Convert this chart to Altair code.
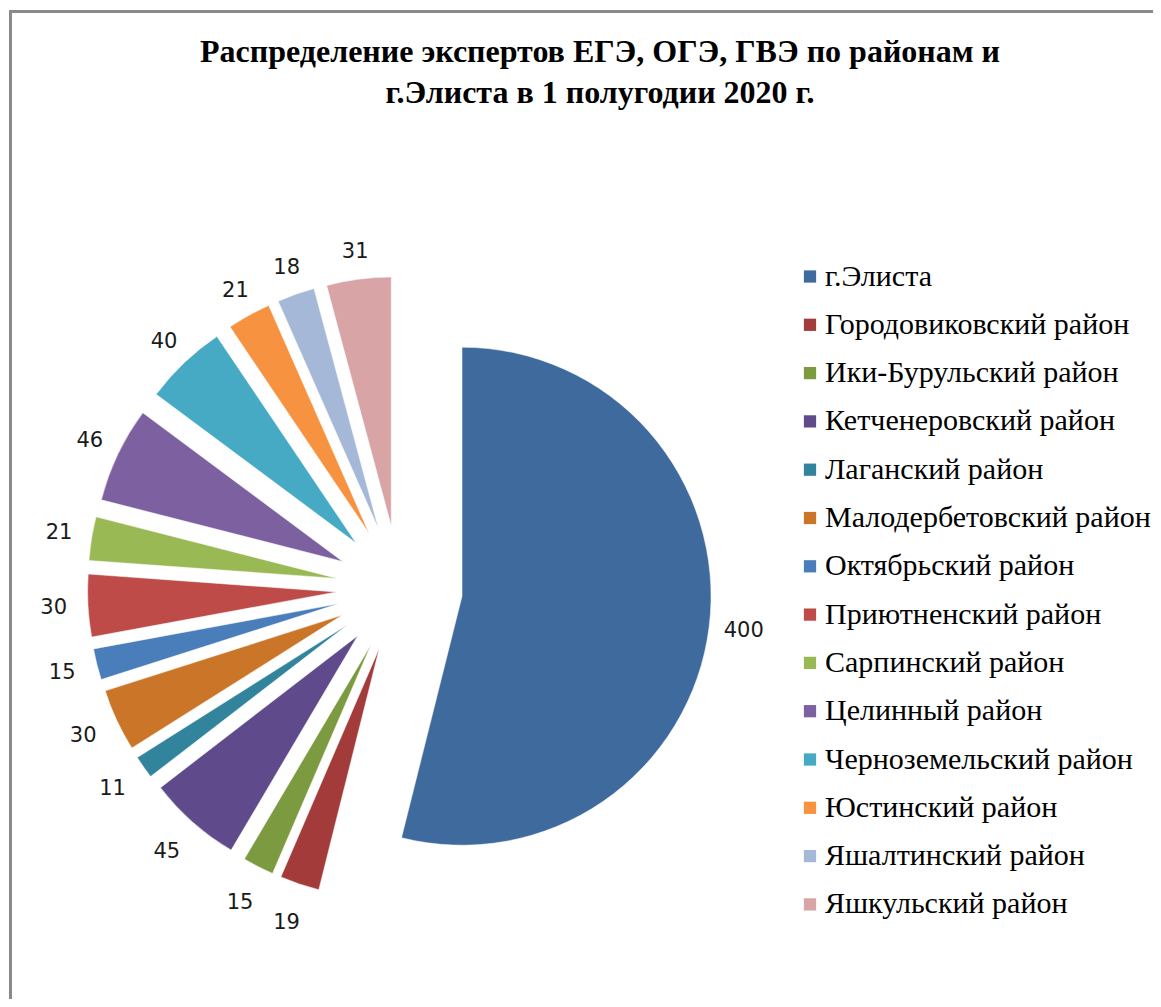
import altair as alt
import pandas as pd

# ---- data ----
CATEGORIES = [
    "г.Элиста",
    "Городовиковский район",
    "Ики-Бурульский район",
    "Кетченеровский район",
    "Лаганский район",
    "Малодербетовский район",
    "Октябрьский район",
    "Приютненский район",
    "Сарпинский район",
    "Целинный район",
    "Черноземельский район",
    "Юстинский район",
    "Яшалтинский район",
    "Яшкульский район",
]
VALUES = [400, 19, 15, 45, 11, 30, 15, 30, 21, 46, 40, 21, 18, 31]
TITLE_LINES = [
    "Распределение экспертов ЕГЭ, ОГЭ, ГВЭ по районам и",
    "г.Элиста в 1 полугодии 2020 г.",
]

# ---- styles ----
COLORS = ["#3F6A9E", "#A33B3A", "#7C9A3F", "#5F4A8B", "#31849B", "#CB7529",
          "#4A7EBB", "#BE4B48", "#98B954", "#7D60A0", "#46AAC5", "#F69240",
          "#A5B8D7", "#D8A4A5"]
SERIF = "Liberation Serif"

W, H = 1145, 991
CX, CY = 391.5, 580.5   # pie centre (plot coords)
R = 249                 # radius
D = 63                  # explosion distance
LR0, LRV = 283, 7       # label distance from slice vertex: LR0 - LRV*cos(angle)

df = pd.DataFrame({"idx": list(range(len(CATEGORIES))),
                   "cat": CATEGORIES, "value": VALUES})

base = (
    alt.Chart(df)
    .transform_joinaggregate(total="sum(value)")
    .transform_window(cum="sum(value)", sort=[alt.SortField("idx")], frame=[None, 0])
    .transform_calculate(a1="2*PI*(datum.cum-datum.value)/datum.total",
                         a2="2*PI*datum.cum/datum.total")
    .transform_calculate(mid="(datum.a1+datum.a2)/2")
    .transform_calculate(px=f"{CX}+{D}*sin(datum.mid)",
                         py=f"{CY}-{D}*cos(datum.mid)",
                         lr=f"{LR0}-{LRV}*cos(datum.mid)")
    .transform_calculate(lx="datum.px+datum.lr*sin(datum.mid)",
                         ly="datum.py-datum.lr*cos(datum.mid)")
)

arcs = base.mark_arc(outerRadius=R, innerRadius=0, stroke="white", strokeWidth=0.5).encode(
    x=alt.X("px:Q", scale=None, axis=None),
    y=alt.Y("py:Q", scale=None, axis=None),
    theta=alt.Theta("a1:Q", scale=None),
    theta2=alt.Theta2("a2:Q"),
    color=alt.Color(
        "cat:N",
        scale=alt.Scale(domain=CATEGORIES, range=COLORS),
        legend=alt.Legend(
            title=None, orient="none", legendX=787, legendY=253.5,
            symbolType="square", symbolSize=150, symbolStrokeWidth=0,
            labelFont=SERIF, labelFontSize=30, labelColor="#000000",
            labelOffset=0, rowPadding=18.3, labelLimit=500,
        ),
    ),
    order=alt.Order("idx:Q"),
)

labels = base.mark_text(font="DejaVu Sans", fontSize=21, color="#1a1a1a",
                        align="center", baseline="middle").encode(
    x=alt.X("lx:Q", scale=None, axis=None),
    y=alt.Y("ly:Q", scale=None, axis=None),
    text=alt.Text("value:Q"),
)

title1 = alt.Chart(alt.Data(values=[{"t": TITLE_LINES[0]}])).mark_text(
    font=SERIF, fontSize=32, fontWeight="bold", color="#000000",
    align="center", baseline="middle").encode(
    x=alt.value(592), y=alt.value(44), text="t:N")
title2 = alt.Chart(alt.Data(values=[{"t": TITLE_LINES[1]}])).mark_text(
    font=SERIF, fontSize=32, fontWeight="bold", color="#000000",
    align="center", baseline="middle").encode(
    x=alt.value(592), y=alt.value(85), text="t:N")

border_top = alt.Chart(alt.Data(values=[{"b": 1}])).mark_rule(
    color="#8a8a8a", strokeWidth=3).encode(
    x=alt.value(1.5), x2=alt.value(W), y=alt.value(3.5))
border_left = alt.Chart(alt.Data(values=[{"b": 1}])).mark_rule(
    color="#8a8a8a", strokeWidth=3).encode(
    x=alt.value(2.5), y=alt.value(2), y2=alt.value(H))

chart = (
    alt.layer(border_top, border_left, arcs, labels, title1, title2)
    .properties(width=W, height=H, padding=0,
                autosize=alt.AutoSizeParams(type="none"))
    .configure_view(strokeWidth=0)
)

chart.save("out.html", embed_options={"renderer": "svg", "actions": False})
